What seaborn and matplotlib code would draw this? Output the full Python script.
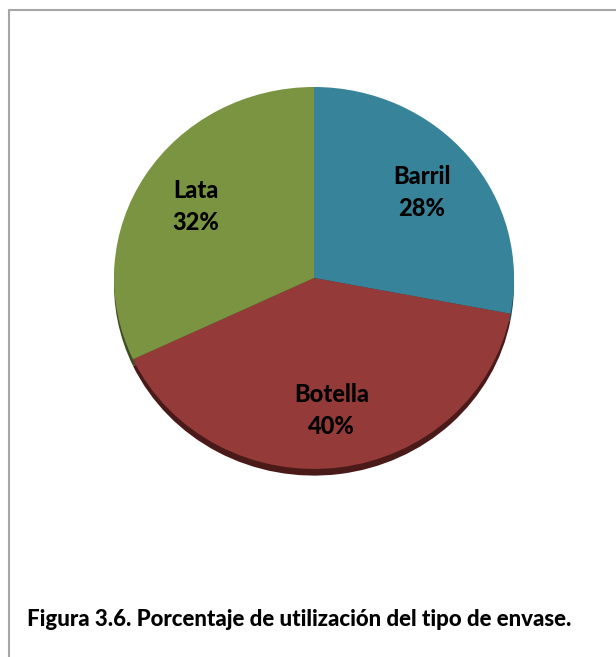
import matplotlib
matplotlib.use("Agg")
from matplotlib import pyplot as plt
from matplotlib.lines import Line2D
import seaborn as sns

envases = ["Barril", "Botella", "Lata"]
porcentajes = [28, 40, 32]
colores = ["#37849A", "#943A38", "#7A9441"]
colores_sombra = ["#1F4C59", "#4A1A19", "#3F4D21"]
titulo = "Figura 3.6. Porcentaje de utilización del tipo de envase."

sns.set_theme(style="white")
plt.rcParams['font.family'] = ['Lato', 'DejaVu Sans']

fig = plt.figure(figsize=(6.16, 6.57), dpi=100)
ax = fig.add_axes([114 / 616, 1 - 480 / 657, 400 / 616, 393 / 657])

# sombra bajo el pastel
ax.pie(porcentajes, colors=colores_sombra, startangle=90, counterclock=False,
       center=(0, -0.035), wedgeprops=dict(linewidth=0))

etiquetas = [f"{e}\n{p}%" for e, p in zip(envases, porcentajes)]
wedges, texts = ax.pie(porcentajes, labels=etiquetas, colors=colores, startangle=90,
                       counterclock=False, labeldistance=0.7,
                       wedgeprops=dict(linewidth=0),
                       textprops=dict(fontsize=17, fontweight='black', color='black',
                                      linespacing=1.45))
for t in texts:
    t.set_ha('center')
    t.set_va('center')

ax.set_aspect('auto')
ax.set_xlim(-1, 1)
ax.set_ylim(-1.058, 1)
ax.axis('off')

# marco del grafico
fig.add_artist(Line2D([9 / 616, 9 / 616], [0, 1 - 10 / 657], color='#A6A6A6', lw=1.5))
fig.add_artist(Line2D([9 / 616, 1], [1 - 10 / 657, 1 - 10 / 657], color='#A6A6A6', lw=1.5))

fig.text(27 / 616, 1 - 620 / 657, titulo, fontsize=16, fontweight='black',
         ha='left', va='center', color='black')

fig.savefig("out.png", dpi=100, facecolor='white')
